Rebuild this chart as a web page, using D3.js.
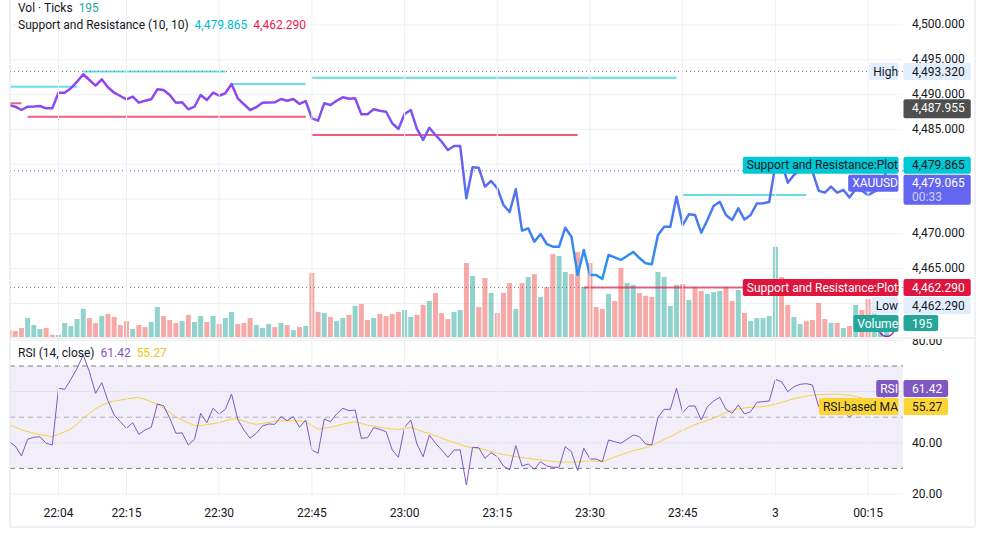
<!DOCTYPE html>
<html>
<head>
<meta charset="utf-8">
<script src="https://cdn.jsdelivr.net/npm/d3@7"></script>
<style>
  body { margin: 0; background: #fff; }
  svg { display: block; font-family: Roboto, "Liberation Sans", sans-serif; }
</style>
</head>
<body>
<svg id="chart" width="985" height="537"></svg>
<script>
// one bar per minute, first bar 21:56
const startTime = new Date(2025, 11, 2, 21, 56);

const closes = [
  4488.51, 4488.26, 4487.79, 4488.26, 4488.29, 4488.36, 4488.03, 4488.03, 4490.27, 4490.27,
  4490.91, 4491.85, 4492.92, 4492.10, 4491.28, 4492.20, 4491.05, 4490.27, 4489.80, 4489.32,
  4489.70, 4488.84, 4489.12, 4489.32, 4490.76, 4490.66, 4489.94, 4488.84, 4488.89, 4487.89,
  4488.26, 4489.94, 4489.22, 4490.27, 4489.84, 4490.19, 4491.52, 4489.47, 4488.61, 4487.79,
  4488.18, 4488.84, 4488.86, 4488.89, 4489.37, 4489.12, 4489.37, 4488.65, 4489.08, 4486.59,
  4486.25, 4488.75, 4488.51, 4489.12, 4489.61, 4489.41, 4489.47, 4487.17, 4487.17, 4487.89,
  4487.69, 4487.54, 4485.88, 4485.06, 4487.21, 4487.79, 4485.06, 4483.48, 4485.24, 4484.20,
  4483.23, 4482.04, 4482.61, 4482.61, 4475.10, 4479.55, 4479.50, 4476.77, 4477.59, 4476.54,
  4474.14, 4473.13, 4476.39, 4470.45, 4470.79, 4468.87, 4469.97, 4468.53, 4468.15, 4468.15,
  4470.88, 4469.58, 4464.08, 4467.67, 4464.08, 4464.08, 4463.51, 4466.95, 4466.62, 4466.24,
  4466.81, 4467.39, 4466.52, 4465.76, 4465.62, 4469.83, 4471.02, 4471.02, 4475.33, 4471.26,
  4472.80, 4472.70, 4470.16, 4471.98, 4473.99, 4474.61, 4472.70, 4471.98, 4473.66, 4472.05,
  4472.70, 4474.35, 4474.38, 4474.57, 4479.89, 4480.32, 4477.34, 4478.45, 4479.17, 4480.17,
  4478.92, 4476.19, 4475.91, 4476.77, 4475.91, 4476.29, 4475.24, 4476.39, 4476.19, 4475.57,
  4476.05, 4476.58, 4479.065
];

// volume in ticks
const volumes = [
  150, 130, 195, 410, 260, 175, 195, 45, 45, 305,
  240, 390, 610, 410, 305, 455, 500, 435, 260, 345,
  175, 260, 215, 325, 650, 455, 370, 305, 345, 480,
  325, 455, 325, 455, 280, 410, 545, 280, 305, 410,
  260, 195, 280, 215, 305, 260, 150, 215, 240, 1390,
  545, 520, 435, 345, 410, 480, 675, 715, 370, 410,
  500, 455, 500, 545, 585, 435, 480, 695, 780, 955,
  520, 390, 545, 585, 1605, 1325, 650, 1280, 955, 520,
  955, 1170, 610, 1170, 1300, 1365, 870, 1085, 1800, 1760,
  1410, 1365, 1845, 1085, 1605, 650, 610, 935, 780, 1500,
  1170, 1130, 955, 890, 870, 1410, 1300, 675, 1130, 1150,
  805, 1085, 1000, 935, 975, 1000, 1085, 780, 1020, 520,
  345, 410, 410, 455, 1955, 1300, 695, 435, 280, 345,
  370, 740, 390, 305, 305, 195, 240, 695, 585, 825,
  650, 305, 195
];
// u = up bar, d = down bar
const volumeDir = ("ddduuudduu" + "uuuddudddd" + "udduudddud" + "uududuuddd" + "uuudududud" +
  "duduududdu" + "dddduuddud" + "dduududdud" + "ddudududdu" + "uddudddudd" +
  "uuddduuuud" + "udduuuddud" + "uuuuudduud" + "dddudududd" + "uuu").split("");

const rsi = [
  40.43, 38.75, 34.84, 41.37, 42.15, 42.38, 39.80, 39.14, 61.29, 60.90,
  64.80, 69.10, 74.30, 67.77, 59.34, 63.48, 56.45, 50.86, 48.24, 45.66,
  47.85, 43.32, 45.00, 46.05, 55.16, 54.49, 49.57, 43.71, 43.90, 39.14,
  41.37, 51.52, 47.85, 53.48, 51.25, 53.09, 59.06, 49.18, 45.00, 41.76,
  43.71, 46.56, 47.34, 47.23, 50.20, 48.63, 50.20, 46.05, 48.91, 37.19,
  35.90, 49.30, 48.24, 51.25, 53.48, 52.54, 52.81, 41.76, 41.99, 45.90,
  45.27, 44.34, 37.19, 34.34, 46.05, 48.91, 39.53, 34.57, 43.05, 39.80,
  37.19, 34.34, 37.19, 37.19, 23.52, 38.24, 38.09, 33.95, 36.13, 34.57,
  30.94, 29.38, 38.87, 30.94, 31.72, 29.65, 32.62, 30.94, 30.43, 30.43,
  38.48, 36.52, 29.10, 37.85, 33.67, 33.67, 32.62, 41.09, 40.43, 39.80,
  41.37, 43.05, 42.38, 39.53, 39.14, 49.96, 53.09, 53.09, 61.29, 51.76,
  54.38, 54.38, 48.91, 54.10, 56.33, 57.77, 53.09, 51.52, 54.77, 51.25,
  52.15, 55.82, 56.05, 56.33, 64.80, 63.87, 59.96, 61.91, 62.85, 63.09,
  62.58, 54.10, 53.09, 52.15, 53.09, 52.54, 49.96, 52.81, 53.48, 51.05,
  52.15, 52.80, 61.42
];

const rsiMA = [
  47.0, 46.2, 45.0, 44.4, 43.7, 43.2, 42.8, 42.4, 43.3, 44.3,
  45.4, 47.3, 49.6, 51.5, 53.3, 54.6, 55.7, 56.3, 56.7, 57.1,
  57.5, 57.7, 57.0, 56.0, 55.1, 53.5, 51.8, 50.1, 48.9, 47.8,
  46.8, 46.7, 47.1, 47.5, 47.9, 48.6, 49.3, 49.3, 48.5, 47.7,
  47.2, 47.6, 48.0, 48.4, 48.6, 48.6, 48.6, 48.5, 48.2, 46.8,
  45.3, 45.7, 46.1, 46.6, 47.3, 47.8, 48.2, 47.6, 46.9, 46.5,
  46.1, 45.7, 45.4, 45.2, 45.6, 46.0, 45.2, 44.3, 43.7, 42.7,
  41.8, 40.9, 40.1, 39.3, 38.5, 38.1, 37.8, 37.3, 36.6, 35.9,
  35.4, 35.0, 34.6, 34.2, 33.9, 33.6, 33.3, 33.0, 32.7, 32.5,
  32.5, 32.4, 32.5, 32.7, 33.0, 32.8, 32.6, 33.5, 34.5, 35.3,
  36.1, 36.9, 37.5, 38.1, 39.0, 40.1, 41.3, 42.4, 43.7, 44.9,
  46.0, 47.1, 47.9, 48.7, 49.6, 50.6, 51.8, 52.7, 53.2, 53.6,
  53.9, 54.0, 54.1, 54.5, 55.1, 55.8, 56.5, 57.2, 57.7, 58.2,
  58.6, 58.8, 58.9, 59.0, 59.0, 58.8, 58.6, 58.1, 57.5, 57.0,
  56.4, 55.8, 55.27
];

// [first bar, last bar, level]
const resistance = [[-1, 11, 4491.13], [12, 35, 4493.32], [36, 48, 4491.52], [49, 108, 4492.43], [109, 129, 4475.57], [130, 142, 4479.865]];
const support = [[0, 2, 4488.75], [3, 48, 4486.82], [49, 92, 4484.20], [93, 142, 4462.29]];

const priceTicks = [4500, 4495, 4490, 4485, 4480, 4475, 4470, 4465, 4460];
const rsiTicks = [80, 60, 40, 20];
const rsiBands = [70, 50, 30];
const timeTicks = ["22:04", "22:15", "22:30", "22:45", "23:00", "23:15", "23:30", "23:45", "00:00", "00:15"];
const timeTickLabels = ["22:04", "22:15", "22:30", "22:45", "23:00", "23:15", "23:30", "23:45", "3", "00:15"];

const dayHigh = 4493.32;
const dayLow = 4462.29;
const prevClose = 4487.955;
const lastPrice = 4479.065;
const lastVolume = 195;
const countdown = "00:33";

document.addEventListener('DOMContentLoaded', () => {
    const svg = d3.select('#chart');
    const fmt3 = d3.format(',.3f');
    const fmt2 = d3.format('.2f');

    const barTime = i => new Date(startTime.getTime() + i * 60000);
    const tickTime = s => {
        const [h, m] = s.split(':').map(Number);
        return h < 12 ? new Date(2025, 11, 3, h, m) : new Date(2025, 11, 2, h, m);
    };

    const left = 10, right = 903, paneBottom = 337, rsiTop = 339, rsiBottom = 500;

    const x = d3.scaleTime()
        .domain([new Date(2025, 11, 2, 21, 56, 9), new Date(2025, 11, 3, 0, 20, 39)])
        .range([left, right]);
    const y = d3.scaleLinear().domain([4460, 4500]).range([303.4, 25]);
    const yVol = d3.scaleLinear().domain([0, 2170]).range([paneBottom, 237]);
    const yRsi = d3.scaleLinear().domain([20, 80]).range([494, 340.4]);

    const defs = svg.append('defs');
    defs.append('clipPath').attr('id', 'clipMain')
        .append('rect').attr('x', left).attr('y', 0).attr('width', right - left).attr('height', paneBottom);
    defs.append('clipPath').attr('id', 'clipRsi')
        .append('rect').attr('x', left).attr('y', rsiTop).attr('width', right - left).attr('height', rsiBottom - rsiTop);
    defs.append('clipPath').attr('id', 'clipRsiAxis')
        .append('rect').attr('x', right).attr('y', rsiTop).attr('width', 80).attr('height', rsiBottom - rsiTop);

    const grad = defs.append('linearGradient').attr('id', 'lineGrad')
        .attr('gradientUnits', 'userSpaceOnUse')
        .attr('x1', 0).attr('x2', 0).attr('y1', y(4493)).attr('y2', y(4463));
    grad.append('stop').attr('offset', 0).attr('stop-color', '#9c3cf2');
    grad.append('stop').attr('offset', 1).attr('stop-color', '#2196f3');

    svg.append('rect').attr('width', 985).attr('height', 537).attr('fill', '#fff');

    // grid
    const main = svg.append('g').attr('clip-path', 'url(#clipMain)');
    const rsiG = svg.append('g').attr('clip-path', 'url(#clipRsi)');

    main.selectAll('.hgrid').data(priceTicks).enter().append('line')
        .attr('x1', left).attr('x2', right)
        .attr('y1', d => y(d)).attr('y2', d => y(d))
        .attr('stroke', '#eef0f3');
    rsiG.selectAll('.rgrid').data(rsiTicks).enter().append('line')
        .attr('x1', left).attr('x2', right)
        .attr('y1', d => yRsi(d)).attr('y2', d => yRsi(d))
        .attr('stroke', '#eef0f3');
    svg.selectAll('.vgrid').data(timeTicks).enter().append('line')
        .attr('x1', d => x(tickTime(d))).attr('x2', d => x(tickTime(d)))
        .attr('y1', 0).attr('y2', 497)
        .attr('stroke', '#eef0f3');

    // RSI band
    rsiG.append('rect')
        .attr('x', left).attr('width', right - left)
        .attr('y', yRsi(70)).attr('height', yRsi(30) - yRsi(70))
        .attr('fill', 'rgba(126, 87, 194, 0.1)');
    rsiG.selectAll('.band').data(rsiBands).enter().append('line')
        .attr('x1', left).attr('x2', right)
        .attr('y1', d => yRsi(d)).attr('y2', d => yRsi(d))
        .attr('stroke', d => d === 50 ? 'rgba(120,123,134,0.55)' : '#787b86')
        .attr('stroke-dasharray', '5,4');

    // volume
    main.selectAll('.vol').data(volumes).enter().append('rect')
        .attr('x', (d, i) => x(barTime(i)) - 2.5)
        .attr('width', 5)
        .attr('y', d => yVol(d))
        .attr('height', d => paneBottom - yVol(d))
        .attr('fill', (d, i) => volumeDir[i] === 'u' ? 'rgba(38,166,154,0.5)' : 'rgba(239,83,80,0.5)');

    // support / resistance
    const segs = (data, color) => main.selectAll(null).data(data).enter().append('line')
        .attr('x1', d => x(barTime(d[0]))).attr('x2', d => x(barTime(d[1])))
        .attr('y1', d => y(d[2])).attr('y2', d => y(d[2]))
        .attr('stroke', color).attr('stroke-width', 2);
    segs(resistance, 'rgba(0,200,215,0.6)');
    segs(support, 'rgba(236,30,72,0.72)');

    // price lines
    const hline = (v, color) => main.append('line')
        .attr('x1', left).attr('x2', right)
        .attr('y1', y(v)).attr('y2', y(v))
        .attr('stroke', color).attr('stroke-dasharray', '1,3');
    hline(dayHigh, '#787b86');
    hline(dayLow, '#787b86');
    hline(lastPrice, '#5b5ff0');

    main.append('path')
        .datum(closes)
        .attr('fill', 'none')
        .attr('stroke', 'url(#lineGrad)')
        .attr('stroke-width', 2.5)
        .attr('stroke-linejoin', 'round')
        .attr('d', d3.line().x((d, i) => x(barTime(i))).y(d => y(d)));

    // RSI
    const rsiLine = d3.line().x((d, i) => x(barTime(i))).y(d => yRsi(d));
    rsiG.append('path').datum(rsiMA)
        .attr('fill', 'none').attr('stroke', '#f7d23c').attr('stroke-width', 1)
        .attr('d', rsiLine);
    rsiG.append('path').datum(rsi)
        .attr('fill', 'none').attr('stroke', '#7e57c2').attr('stroke-width', 1)
        .attr('d', rsiLine);

    main.append('circle')
        .attr('cx', x(barTime(closes.length - 1))).attr('cy', 329).attr('r', 7.5)
        .attr('fill', 'none').attr('stroke', '#9c27b0').attr('stroke-width', 1.5);

    // borders
    svg.append('line').attr('x1', left).attr('x2', 975).attr('y1', 338).attr('y2', 338).attr('stroke', '#e0e3eb');
    svg.append('line').attr('x1', left).attr('x2', left).attr('y1', 0).attr('y2', 527).attr('stroke', '#e0e3eb');
    svg.append('line').attr('x1', 975).attr('x2', 975).attr('y1', 0).attr('y2', 527).attr('stroke', '#e0e3eb');
    svg.append('line').attr('x1', left).attr('x2', 975).attr('y1', 527).attr('y2', 527).attr('stroke', '#e0e3eb');

    // legends
    const legend = (yy, parts) => {
        const t = svg.append('text').attr('x', 18).attr('y', yy)
            .attr('dy', '0.35em').attr('font-size', 12).attr('fill', '#131722');
        parts.forEach((p, i) => t.append('tspan').attr('dx', i ? 6 : 0).attr('fill', p[1]).text(p[0]));
    };
    legend(8, [['Vol · Ticks', '#131722'], [String(lastVolume), '#26a69a']]);
    legend(25, [['Support and Resistance (10, 10)', '#131722'], [fmt3(4479.865), '#00bcd4'], [fmt3(4462.29), '#ec1a4c']]);
    legend(353, [['RSI (14, close)', '#131722'], [fmt2(rsi[rsi.length - 1]), '#7e57c2'], [fmt2(rsiMA[rsiMA.length - 1]), '#f2c318']]);

    svg.selectAll('.ttick').data(timeTicks).enter().append('text')
        .attr('x', d => x(tickTime(d))).attr('y', 513).attr('dy', '0.35em')
        .attr('text-anchor', 'middle').attr('font-size', 12).attr('fill', '#131722')
        .text((d, i) => timeTickLabels[i]);

    // scale ticks go under the axis labels; ticks hidden by a label are skipped
    const tickLayer = svg.append('g').attr('font-size', 12).attr('fill', '#131722');
    const spans = [];

    // axis labels: name box to the left of the scale, value box on it
    const tag = (top, h, name, lines, bg, fg) => {
        spans.push([top, top + h]);
        const g = svg.append('g').attr('font-size', 12);
        const vt = lines.map((l, k) => g.append('text')
            .attr('x', 912).attr('y', top + 8.5 + k * 14).attr('dy', '0.35em')
            .attr('fill', k ? 'rgba(255,255,255,0.7)' : fg).text(l));
        const w = d3.max(vt, t => t.node().getComputedTextLength());
        g.insert('rect', 'text').attr('x', 903.5).attr('y', top)
            .attr('width', 912 + w + 6 - 903.5).attr('height', h).attr('rx', 2).attr('fill', bg);
        if (name) {
            const nt = g.append('text').attr('x', 898).attr('y', top + 8.5).attr('dy', '0.35em')
                .attr('text-anchor', 'end').attr('fill', fg).text(name);
            const nw = nt.node().getComputedTextLength();
            g.insert('rect', 'text').attr('x', 898 - nw - 4).attr('y', top)
                .attr('width', nw + 4.5).attr('height', 17).attr('rx', 2).attr('fill', bg);
        }
        return top + h;
    };
    const c = v => y(v) - 8.5;

    tag(c(dayHigh), 17, 'High', [fmt3(dayHigh)], '#e3eefc', '#131722');
    tag(y(prevClose) - 9.5, 19, null, [fmt3(prevClose)], '#4f4f4f', '#fff');
    let b = tag(c(4479.865), 17, 'Support and Resistance:Plot', [fmt3(4479.865)], '#00c8d4', '#131722');
    tag(Math.max(c(lastPrice), b + 1), 30, 'XAUUSD', [fmt3(lastPrice), countdown], '#6366f1', '#fff');
    b = tag(c(4462.29), 17, 'Support and Resistance:Plot', [fmt3(4462.29)], '#e0143c', '#fff');
    b = tag(Math.max(c(dayLow), b + 1), 17, 'Low', [fmt3(dayLow)], '#e3eefc', '#131722');
    tag(Math.min(yVol(lastVolume) - 8.5, b + 1), 16, 'Volume', [String(lastVolume)], '#26a69a', '#fff');
    b = tag(yRsi(rsi[rsi.length - 1]) - 8, 17, 'RSI', [fmt2(rsi[rsi.length - 1])], '#7e57c2', '#fff');
    tag(Math.max(yRsi(rsiMA[rsiMA.length - 1]) - 8.5, b + 1), 17, 'RSI-based MA', [fmt2(rsiMA[rsiMA.length - 1])], '#fcd535', '#131722');

    const free = yy => !spans.some(s => yy > s[0] - 3 && yy < s[1] + 3);

    tickLayer.selectAll('.ptick').data(priceTicks.filter(d => free(y(d) - 1))).enter().append('text')
        .attr('x', 912).attr('y', d => y(d) - 1).attr('dy', '0.35em')
        .text(d => fmt3(d));
    tickLayer.append('g').attr('clip-path', 'url(#clipRsiAxis)')
        .selectAll('text').data(rsiTicks.filter(d => free(yRsi(d)))).enter().append('text')
        .attr('x', 912).attr('y', d => yRsi(d)).attr('dy', '0.35em')
        .text(d => fmt2(d));
});
</script>
</body>
</html>
